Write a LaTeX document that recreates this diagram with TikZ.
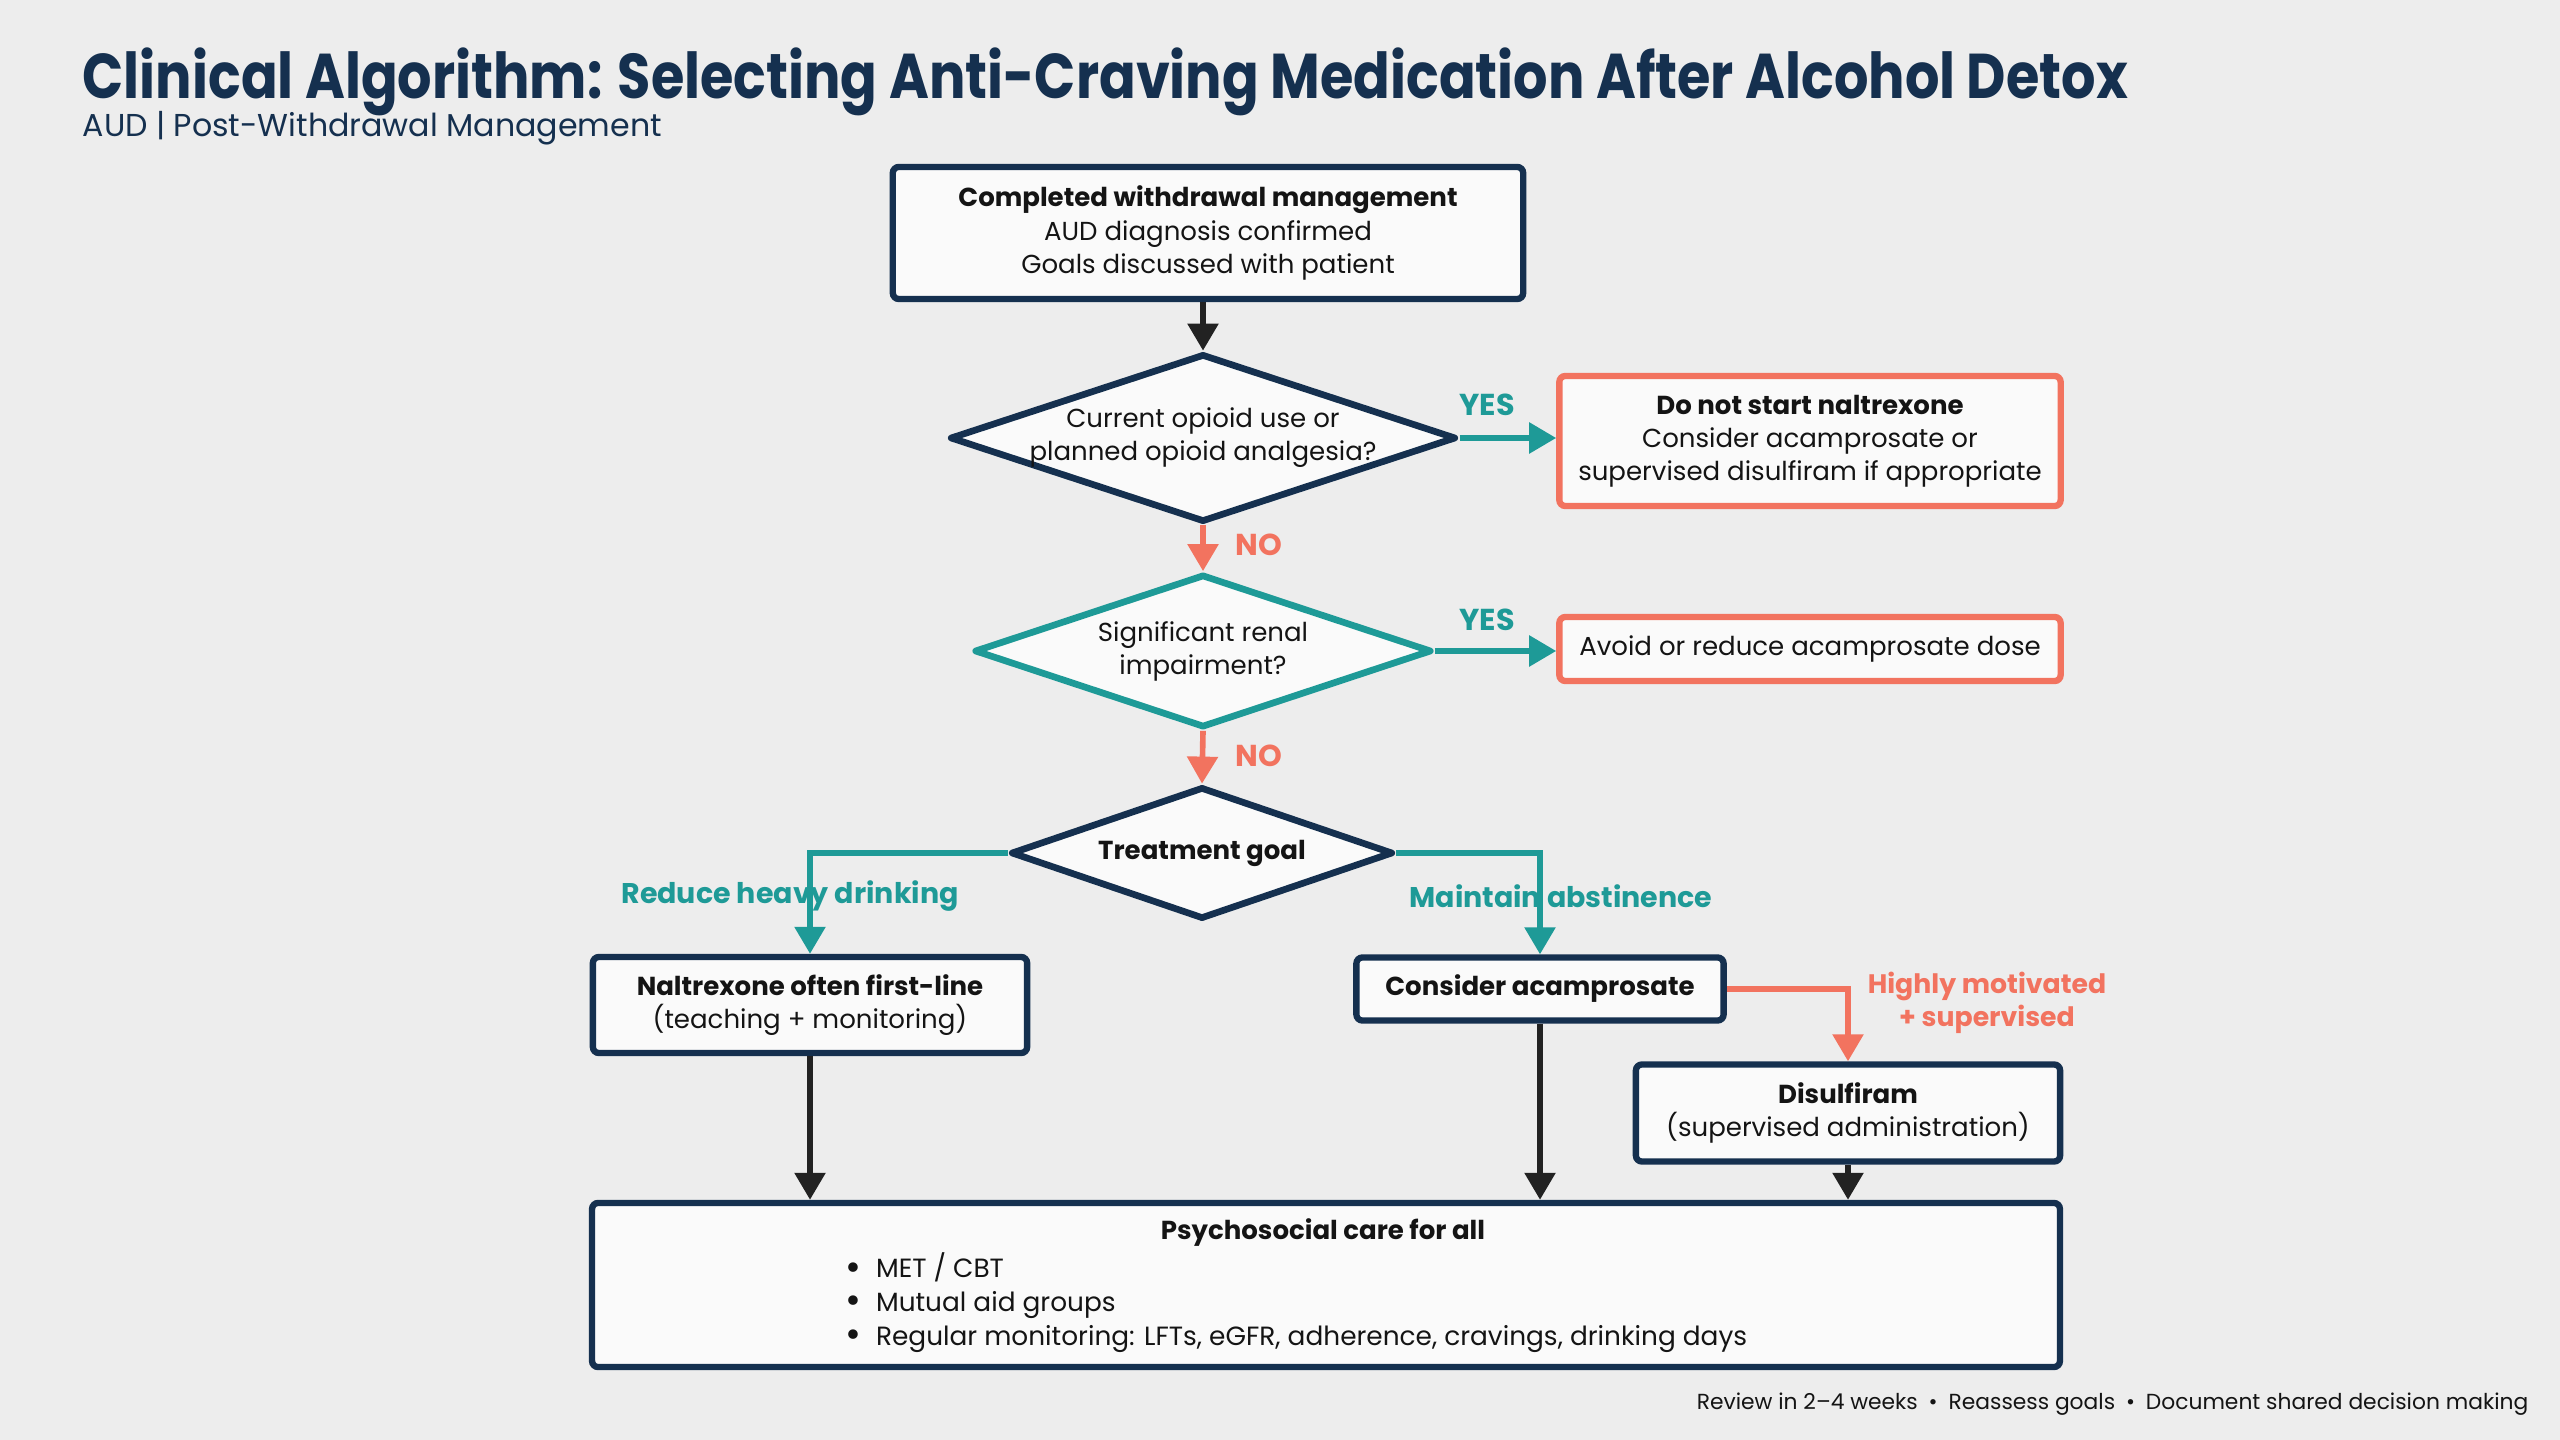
\documentclass[tikz,border=0pt]{standalone}
\usepackage{fontspec}
\setmainfont{Poppins}
\newfontfamily\titlefont[FakeStretch=0.855]{Poppins}
\usetikzlibrary{shapes.geometric,arrows.meta}
\definecolor{navy}{HTML}{15304F}
\definecolor{teal}{HTML}{1E9A97}
\definecolor{coral}{HTML}{F2735F}
\definecolor{bgc}{HTML}{EDEDED}
\definecolor{boxfill}{HTML}{FAFAFA}
\definecolor{txt}{HTML}{141414}
\definecolor{darkarrow}{HTML}{222222}
\newcommand\bulitem{\makebox[1.15em][l]{\fontsize{11}{9.6}\selectfont\raisebox{-0.12ex}{•}}}
\begin{document}
\begin{tikzpicture}[x=0.01cm,y=-0.01cm,
  pbox/.style={draw=navy, line width=1.8pt, fill=boxfill, rounded corners=0.06cm, align=center, text=txt, font=\fontsize{7.4}{9.4}\selectfont, inner sep=0pt},
  cbox/.style={pbox, draw=coral},
  dia/.style={diamond, line width=1.9pt, fill=boxfill, align=center, text=txt, font=\fontsize{7.4}{9.4}\selectfont, inner sep=0pt, line join=round},
  arr/.style={line width=1.6pt, -{Triangle[width=0.30cm,length=0.27cm]}},
  darr/.style={arr, draw=darkarrow, fill=darkarrow},
  tarr/.style={arr, draw=teal},
  carr/.style={arr, draw=coral},
  yeslab/.style={text=teal, font=\fontsize{8.6}{10}\selectfont\bfseries},
  nolab/.style={text=coral, font=\fontsize{8.6}{10}\selectfont\bfseries},
  brlab/.style={text=teal, font=\fontsize{8.1}{9}\selectfont\bfseries},
]
\useasboundingbox[fill=bgc] (0,0) rectangle (2560,1440);

\node[anchor=west, inner sep=0pt, text=navy, font=\titlefont\fontsize{18}{20}\selectfont\bfseries] (title) at (82,82) {Clinical Algorithm: Selecting Anti-Craving Medication After Alcohol Detox};
\node[anchor=west, inner sep=0pt, text=navy, font=\fontsize{9.0}{11}\selectfont] (sub) at (82,128) {AUD | Post-Withdrawal Management};

\node[pbox, minimum width=6.30cm, minimum height=1.32cm] (start) at (1208,233)
  {\textbf{Completed withdrawal management}\\AUD diagnosis confirmed\\Goals discussed with patient};
\node[dia, draw=navy, aspect=3, inner sep=-2.6pt, minimum width=5.06cm, minimum height=1.68cm] (q1) at (1203,438)
  {Current opioid use or\\planned opioid analgesia?};
\node[cbox, minimum width=5.01cm, minimum height=1.30cm] (dns) at (1810,441)
  {\textbf{Do not start naltrexone}\\Consider acamprosate or\\supervised disulfiram if appropriate};
\node[dia, draw=teal, aspect=3, minimum width=4.57cm, minimum height=1.53cm] (q2) at (1203,651)
  {Significant renal\\impairment?};
\node[cbox, minimum width=5.01cm, minimum height=0.64cm] (avoid) at (1810,649)
  {Avoid or reduce acamprosate dose};
\node[dia, draw=navy, aspect=2.9, minimum width=3.82cm, minimum height=1.32cm] (q3) at (1202,853)
  {\textbf{Treatment goal}};
\node[pbox, minimum width=4.34cm, minimum height=0.96cm] (nal) at (810,1005)
  {\textbf{Naltrexone often first-line}\\(teaching + monitoring)};
\node[pbox, minimum width=3.67cm, minimum height=0.63cm] (acamp) at (1540,989)
  {\textbf{Consider acamprosate}};
\node[pbox, minimum width=4.24cm, minimum height=0.97cm] (disul) at (1848,1113)
  {\textbf{Disulfiram}\\(supervised administration)};
\node[pbox, minimum width=14.67cm, minimum height=1.64cm] (psych) at (1326,1285) {};
\node[text=txt, font=\fontsize{7.4}{9.4}\selectfont\bfseries] (psyhead) at (1323,1233) {Psychosocial care for all};
\node[anchor=north west, align=left, text=txt, font=\fontsize{7.5}{9.6}\selectfont, inner sep=0pt] (psylist) at (845,1252)
  {\bulitem MET / CBT\\\bulitem Mutual aid groups\\\bulitem Regular monitoring: LFTs, eGFR, adherence, cravings, drinking days};

% labels
\node[yeslab] (yes1) at (1487,405) {YES};
\node[yeslab] (yes2) at (1487,620) {YES};
\node[nolab] (no1) at (1259,545) {NO};
\node[nolab] (no2) at (1259,756) {NO};
\node[brlab] (lred) at (790,896) {Reduce heavy drinking};
\node[brlab] (lmain) at (1561,896) {Maintain abstinence};
\node[text=coral, align=center, font=\fontsize{7.6}{9.2}\selectfont\bfseries] (lhigh) at (1987,1003) {Highly motivated\\+ supervised};

% connectors
\draw[darr] (start.south -| q1.north) -- (q1.north);
\draw[tarr] (q1.east) -- (dns.west |- q1.east);
\draw[carr] (q1.south) -- (q2.north);
\draw[tarr] (q2.east) -- (avoid.west |- q2.east);
\draw[carr] (q2.south) -- (q3.north);
\draw[tarr] (q3.west) -| (nal.north);
\draw[tarr] (q3.east) -| (acamp.north);
\draw[carr] (acamp.east) -| (disul.north);
\draw[darr] (nal.south) -- (nal.south |- psych.north);
\draw[darr] (acamp.south) -- (acamp.south |- psych.north);
\draw[darr] (disul.south) -- (disul.south |- psych.north);

\node[anchor=east, inner sep=0pt, text=txt, font=\fontsize{6.2}{8}\selectfont] (foot) at (2529,1404)
  {Review in 2–4 weeks\enspace•\enspace Reassess goals\enspace•\enspace Document shared decision making};
\end{tikzpicture}
\end{document}
